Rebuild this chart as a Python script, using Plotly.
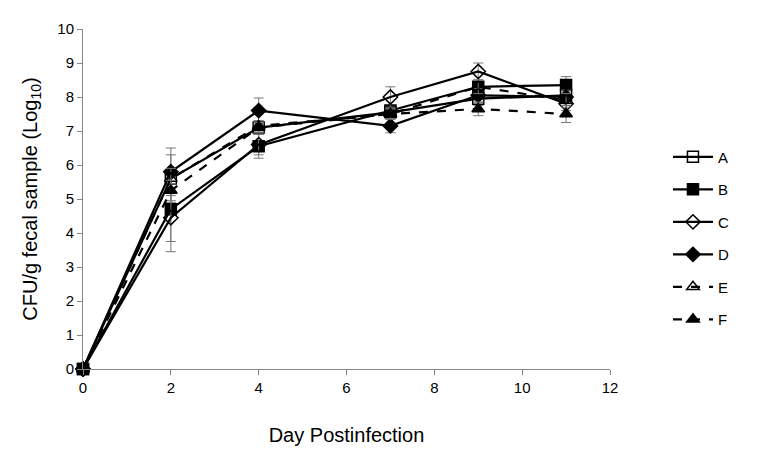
import plotly.graph_objects as go

days = [0, 2, 4, 7, 9, 11]

a_vals = [0, 5.6, 7.1, 7.55, 7.95, 8.05]
b_vals = [0, 4.7, 6.55, 7.6, 8.3, 8.35]
c_vals = [0, 4.45, 6.6, 8.0, 8.75, 7.8]
d_vals = [0, 5.8, 7.6, 7.15, 8.05, 8.0]
e_vals = [0, 5.6, 7.15, 7.5, 8.3, 7.9]
f_vals = [0, 5.25, 7.1, 7.5, 7.65, 7.5]

a_err = [0, 0.7, 0.2, 0.15, 0.2, 0.2]
b_err = [0, 0.95, 0.35, 0.15, 0.2, 0.25]
c_err = [0, 1.0, 0.3, 0.3, 0.25, 0.2]
d_err = [0, 0.7, 0.37, 0.2, 0.2, 0.2]
e_err = [0, 0.3, 0.15, 0.15, 0.2, 0.2]
f_err = [0, 0.3, 0.15, 0.15, 0.2, 0.25]

series = [
    ("A", a_vals, a_err, "square-open", "solid"),
    ("B", b_vals, b_err, "square", "solid"),
    ("C", c_vals, c_err, "diamond-open", "solid"),
    ("D", d_vals, d_err, "diamond", "solid"),
    ("E", e_vals, e_err, "triangle-up-open", "dash"),
    ("F", f_vals, f_err, "triangle-up", "dash"),
]

fig = go.Figure()
for name, vals, err, sym, dash in series:
    fig.add_trace(go.Scatter(
        x=days, y=vals, name=name, legendgroup=name, mode="lines+markers",
        line=dict(color="black", width=2.2, dash=dash),
        marker=dict(symbol=sym, size=11, color="black",
                    line=dict(color="black", width=1.5)),
        error_y=dict(type="data", array=err, visible=True,
                     color="#777777", thickness=1, width=5),
        cliponaxis=False,
    ))

axis_common = dict(
    showline=True, linecolor="#868686", linewidth=1,
    ticks="outside", tickcolor="#868686", ticklen=5,
    showgrid=False, zeroline=False,
    tickfont=dict(family="Liberation Sans", size=15, color="black"),
)

# the page body adds an 8px offset, so margins are trimmed accordingly
fig.update_layout(
    width=770, height=462,
    margin=dict(l=75, r=168, t=12, b=101),
    plot_bgcolor="white", paper_bgcolor="white",
    font=dict(family="Liberation Sans", color="black"),
    xaxis=dict(range=[0, 12], dtick=2,
               title=dict(text="Day Postinfection", font=dict(size=20), standoff=32),
               **axis_common),
    yaxis=dict(range=[0, 10], dtick=1,
               title=dict(text="CFU/g fecal sample (Log<sub>10</sub>)", font=dict(size=20), standoff=14),
               **axis_common),
    legend=dict(x=1.11, y=0.385, xanchor="left", yanchor="middle",
                font=dict(size=15), tracegroupgap=10, itemwidth=40,
                bgcolor="rgba(0,0,0,0)"),
)

fig.write_html("out.html")
